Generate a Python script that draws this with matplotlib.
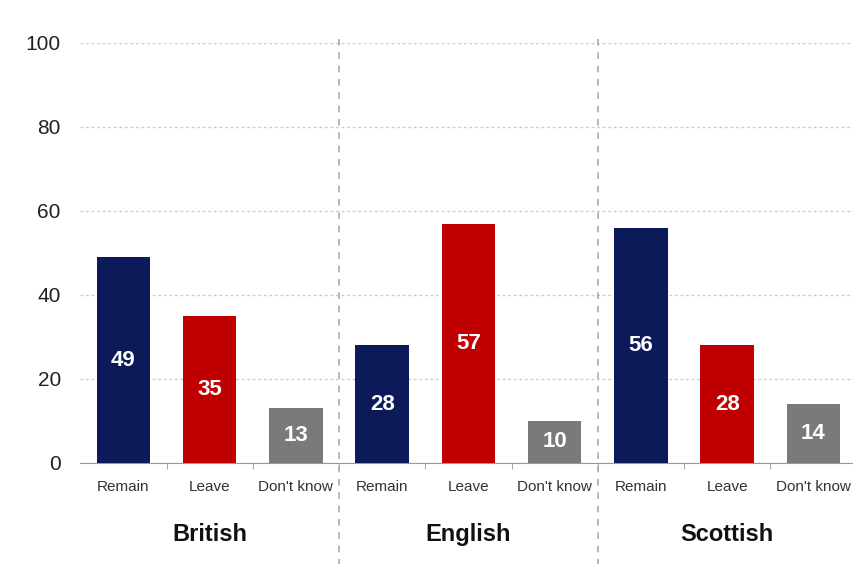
import matplotlib.pyplot as plt

plt.rcParams['font.family'] = ['Liberation Sans', 'DejaVu Sans']

groups = ["British", "English", "Scottish"]
answers = ["Remain", "Leave", "Don't know"]
british = [49, 35, 13]
english = [28, 57, 10]
scottish = [56, 28, 14]
y_ticks = [0, 20, 40, 60, 80, 100]

colors = ["#0c1a5a", "#c00000", "#7a7a7a"]

values = british + english + scottish
labels = answers * len(groups)
bar_colors = colors * len(groups)
x = list(range(len(values)))

fig = plt.figure(figsize=(8.54, 5.73), dpi=100)
ax = fig.add_axes([0.094, 0.192, 0.906, 0.733])

bars = ax.bar(x, values, width=0.62, color=bar_colors, zorder=3)
for b, v in zip(bars, values):
    ax.text(b.get_x() + b.get_width() / 2, v / 2, str(v), ha="center", va="center",
            color="white", fontsize=16, fontweight="bold", zorder=4)

ax.set_xlim(-0.5, 8.47)
ax.set_ylim(0, 100)
ax.set_yticks(y_ticks)
ax.tick_params(axis="y", length=0, labelsize=15, pad=14, labelcolor="#222222")
ax.set_xticks(x)
ax.set_xticklabels(labels, fontsize=11, color="#333333")
ax.tick_params(axis="x", length=0, pad=12)
ax.set_xticks([i + 0.5 for i in range(len(values) - 1)], minor=True)
ax.tick_params(axis="x", which="minor", length=4, color="#999999")

ax.grid(axis="y", linestyle=(0, (2, 2)), color="#cccccc", linewidth=1, zorder=0)
for s in ["top", "right", "left"]:
    ax.spines[s].set_visible(False)
ax.spines["bottom"].set_color("#999999")

# separators between groups and group names
n = len(answers)
for g, name in enumerate(groups):
    center = g * n + (n - 1) / 2
    ax.text(center, -0.17, name, transform=ax.get_xaxis_transform(), ha="center",
            va="center", fontsize=17, fontweight="bold", color="#111111")
    if g > 0:
        ax.plot([g * n - 0.5] * 2, [1.01, -0.24], transform=ax.get_xaxis_transform(),
                clip_on=False, color="#aaaaaa", linestyle=(0, (4, 4)), linewidth=1.2)

fig.savefig("out.png", dpi=100)
